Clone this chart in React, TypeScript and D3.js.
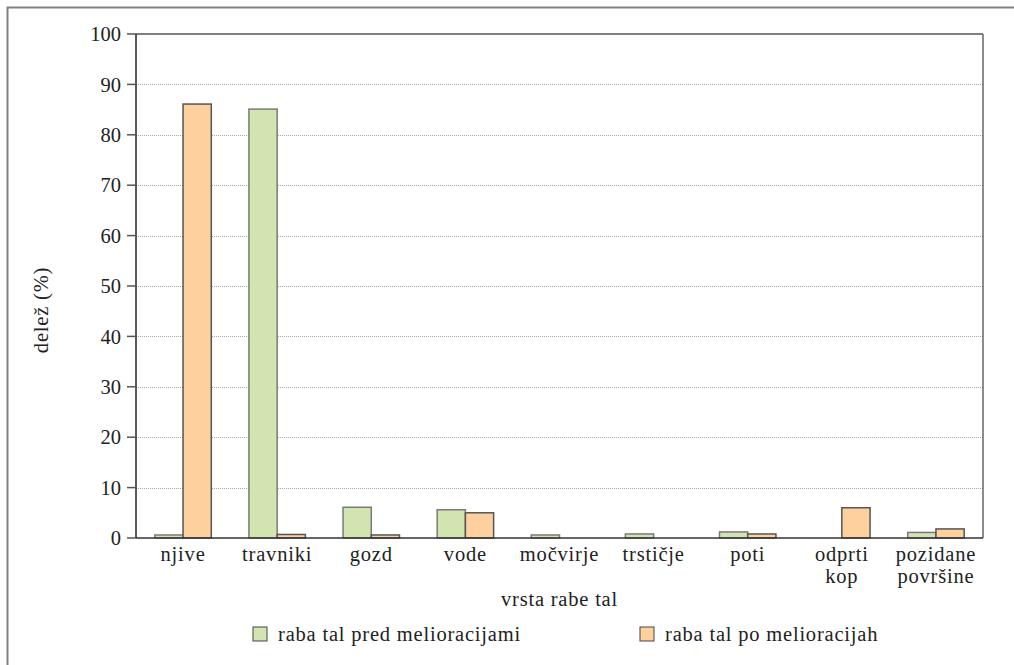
import React from "react";
import * as d3 from "d3";

const categories = [
  ["njive"],
  ["travniki"],
  ["gozd"],
  ["vode"],
  ["močvirje"],
  ["trstičje"],
  ["poti"],
  ["odprti", "kop"],
  ["pozidane", "površine"],
];
const before = [0.6, 85.1, 6.1, 5.6, 0.6, 0.8, 1.2, 0, 1.1];
const after = [86.1, 0.7, 0.6, 5.0, 0, 0, 0.8, 6.0, 1.8];
const yTicks = [0, 10, 20, 30, 40, 50, 60, 70, 80, 90, 100];
const seriesNames = ["raba tal pred melioracijami", "raba tal po melioracijah"];
const colors = ["#d2e4b0", "#fdd09e"];
const strokes = ["#7a7a7a", "#555555"];

export default function App() {
  const W = 1014, H = 665;
  const left = 136, right = 983, top = 34, bottom = 538;
  const font = "'Liberation Serif', serif";
  const ts = { fontFamily: font, fontSize: "20.5px", fill: "#222" } as React.CSSProperties;
  const ws = { ...ts, letterSpacing: "0.8px" } as React.CSSProperties;
  const x = d3.scaleBand().domain(categories.map((_, i) => String(i))).range([left, right]).paddingInner(0).paddingOuter(0);
  const barW = x.bandwidth() * 0.3;
  const y = d3.scaleLinear().domain([0, 100]).range([bottom, top]);
  const series = [before, after];
  return (
    <svg width={W} height={H} style={{ position: "absolute", left: 0, top: 0, fontFamily: font }}>
      <rect x={0} y={0} width={W} height={H} fill="#fff" />
      <path d={`M7.5,${H + 5} V7.5 H${W + 5}`} fill="none" stroke="#808080" strokeWidth={2} />
      {yTicks.filter(t => t > 0 && t < 100).map(t => (
        <line key={t} x1={left} x2={right} y1={Math.round(y(t)) + 0.5} y2={Math.round(y(t)) + 0.5} stroke="#a8a8a8" strokeWidth={1} strokeDasharray="1,1" />
      ))}
      {series.map((vals, s) =>
        vals.map((v, i) => v > 0 ? (
          <rect key={`${s}-${i}`} x={(x(String(i)) as number) + x.bandwidth() / 2 - barW + s * barW}
            y={y(v)} width={barW} height={bottom - y(v)} fill={colors[s]} stroke={strokes[s]} strokeWidth={1.5} />
        ) : null)
      )}
      <line x1={left} x2={right} y1={top} y2={top} stroke="#555" strokeWidth={1.5} />
      <line x1={right} x2={right} y1={top} y2={bottom} stroke="#666" strokeWidth={1.5} />
      <line x1={left} x2={left} y1={top} y2={bottom} stroke="#222" strokeWidth={1.5} />
      <line x1={left} x2={right} y1={bottom} y2={bottom} stroke="#333" strokeWidth={1.5} />
      {yTicks.map(t => (
        <g key={t}>
          <line x1={left - 9} x2={left} y1={y(t)} y2={y(t)} stroke="#555" strokeWidth={1.5} />
          <text x={left - 15} y={y(t)} dy="0.35em" textAnchor="end" style={ts}>{t}</text>
        </g>
      ))}
      {categories.map((lines, i) => (
        <text key={i} x={(x(String(i)) as number) + x.bandwidth() / 2} y={561} textAnchor="middle" style={ws}>
          {lines.map((l, j) => <tspan key={j} x={(x(String(i)) as number) + x.bandwidth() / 2} dy={j === 0 ? 0 : 22}>{l}</tspan>)}
        </text>
      ))}
      <text x={(left + right) / 2} y={606} textAnchor="middle" style={ws}>vrsta rabe tal</text>
      <text transform={`translate(48,310) rotate(-90)`} textAnchor="middle" style={ws}>delež (%)</text>
      {seriesNames.map((n, s) => {
        const lx = s === 0 ? 253 : 640;
        return (
          <g key={n}>
            <rect x={lx} y={627} width={14} height={14} fill={colors[s]} stroke="#444" strokeWidth={1} />
            <text x={lx + 25} y={641} style={ws}>{n}</text>
          </g>
        );
      })}
    </svg>
  );
}
